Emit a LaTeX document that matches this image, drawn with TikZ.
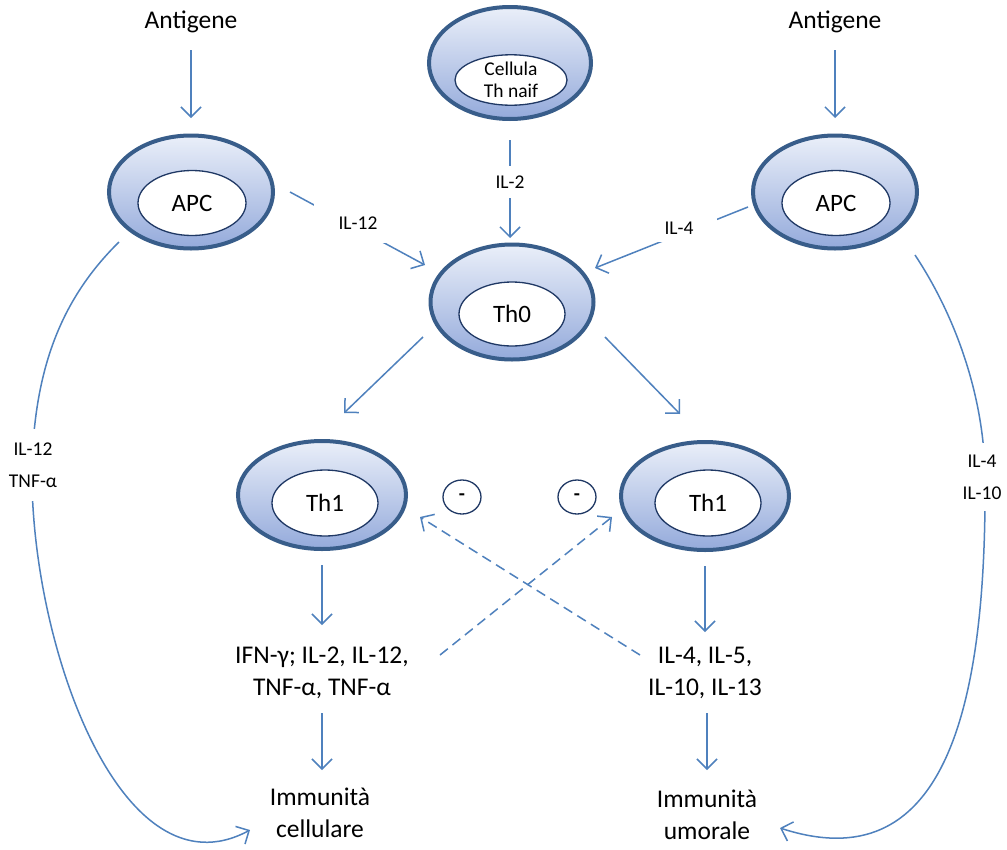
\documentclass[tikz,border=0pt]{standalone}
\usepackage{fontspec}
\setmainfont{Carlito}
\usetikzlibrary{arrows.meta,shapes.geometric}
\definecolor{arrblue}{RGB}{79,129,189}
\definecolor{cellborder}{RGB}{56,93,138}
\definecolor{innerborder}{RGB}{31,56,100}
\definecolor{celltop}{RGB}{234,239,249}
\definecolor{cellbot}{RGB}{148,170,219}
\tikzset{
  outercell/.style={ellipse, draw=cellborder, line width=4pt, top color=celltop, bottom color=cellbot, inner sep=0pt},
  innercell/.style={ellipse, draw=innerborder, line width=1.3pt, fill=white, inner sep=0pt, align=center, font=\fontsize{25}{28}\selectfont},
  bigtext/.style={align=center, inner sep=1pt, font=\fontsize{25.5}{32}\selectfont},
  smalllabel/.style={fill=white, align=center, font=\fontsize{19.5}{32}\selectfont},
  arr/.style={draw=arrblue, line width=1.5pt, -{Straight Barb[length=10pt,width=20pt]}},
  dasharr/.style={arr, dash pattern=on 10pt off 6pt},
  minusnode/.style={ellipse, draw=innerborder, line width=1.3pt, fill=white, minimum width=38pt, minimum height=34pt, inner sep=0pt, font=\bfseries\fontsize{20}{20}\selectfont}
}
\begin{document}
\begin{tikzpicture}[x=1pt,y=-1pt]
\fill[white] (0,0) rectangle (1007,849);
\useasboundingbox (0,0) rectangle (1007,849);

% cells
\node[outercell, minimum width=164pt, minimum height=113pt] (apcL) at (191,192) {};
\node[innercell, minimum width=108pt, minimum height=65pt] (apcLin) at (192,203) {APC};
\node[outercell, minimum width=164pt, minimum height=113pt] (apcR) at (835,192) {};
\node[innercell, minimum width=108pt, minimum height=65pt] (apcRin) at (836,203) {APC};
\node[outercell, minimum width=162pt, minimum height=112pt] (naive) at (510,63) {};
\node[innercell, minimum width=112pt, minimum height=50pt, font=\fontsize{19.5}{22}\selectfont] (naivein) at (511,80) {Cellula\\Th naif};
\node[outercell, minimum width=163pt, minimum height=115pt] (th0) at (512,302) {};
\node[innercell, minimum width=106pt, minimum height=64pt] (th0in) at (512,314) {Th0};
\node[outercell, minimum width=168pt, minimum height=108pt] (th1L) at (322,495) {};
\node[innercell, minimum width=106pt, minimum height=66pt] (th1Lin) at (325,503) {Th1};
\node[outercell, minimum width=168pt, minimum height=108pt] (th1R) at (705,496) {};
\node[innercell, minimum width=106pt, minimum height=66pt] (th1Rin) at (708,503) {Th1};

\node[minusnode] (minL) at (462,497) {-};
\node[minusnode] (minR) at (577,497) {-};

% texts
\node[bigtext] (antL) at (191,22) {Antigene};
\node[bigtext] (antR) at (835,22) {Antigene};
\node[bigtext] (txtL) at (322,673) {IFN-γ; IL-2, IL-12,\\TNF-α, TNF-α};
\node[bigtext] (txtR) at (705,673) {IL-4, IL-5,\\IL-10, IL-13};
\node[bigtext] (immL) at (320,813) {Immunità\\cellulare};
\node[bigtext] (immR) at (707,815) {Immunità\\umorale};

% connectors
\draw[arr] ([shift={(0,28)}]antL.center) -- ([shift={(0,-74)}]apcL.center);
\draw[arr] ([shift={(0,28)}]antR.center) -- ([shift={(0,-74)}]apcR.center);
\draw[arr] ([shift={(0,77)}]naive.center) -- ([shift={(-2,-64)}]th0.center);
\draw[arr] ([shift={(99,0)}]apcL.center) -- ([shift={(-87,-37)}]th0.center);
\draw[arr] ([shift={(-87,15)}]apcR.center) -- ([shift={(83,-34)}]th0.center);
\draw[arr] ([shift={(-89,35)}]th0.center) -- ([shift={(22,-82)}]th1L.center);
\draw[arr] ([shift={(93,35)}]th0.center) -- ([shift={(-25,-82)}]th1R.center);
\draw[arr] ([shift={(0,70)}]th1L.center) -- ([shift={(0,-48)}]txtL.center);
\draw[arr] ([shift={(0,40)}]txtL.center) -- ([shift={(2,-43)}]immL.center);
\draw[arr] ([shift={(0,70)}]th1R.center) -- ([shift={(0,-41)}]txtR.center);
\draw[arr] ([shift={(2,40)}]txtR.center) -- ([shift={(0,-45)}]immR.center);
\draw[dasharr] ([shift={(118,-18)}]txtL.center) -- ([shift={(-93,21)}]th1R.center);
\draw[dasharr] ([shift={(-65,-18)}]txtR.center) -- ([shift={(98,22)}]th1L.center);

\draw[arr] ([shift={(-72,50)}]apcL.center) .. controls (60,300) and (35,370) .. (32,465)
  .. controls (29,640) and (120,900) .. ([shift={(-70,17)}]immL.center);
\draw[arr] ([shift={(80,63)}]apcR.center) .. controls (958,320) and (984,400) .. (985,475)
  .. controls (987,720) and (940,880) .. ([shift={(73,13)}]immR.center);

% labels on connectors
\node[smalllabel, inner xsep=3pt, inner ysep=10pt] (lil2) at (510,182) {IL-2};
\node[smalllabel, inner xsep=25pt, inner ysep=14pt] (lil12) at (358,223) {IL-12};
\node[smalllabel, inner xsep=24pt, inner ysep=8pt] (lil4) at (679,228) {IL-4};
\node[smalllabel, inner xsep=3pt, inner ysep=14pt] (lcurveL) at (33,465) {IL-12\\TNF-α};
\node[smalllabel, inner xsep=3pt, inner ysep=12pt] (lcurveR) at (982,477) {IL-4\\IL-10};
\end{tikzpicture}
\end{document}
